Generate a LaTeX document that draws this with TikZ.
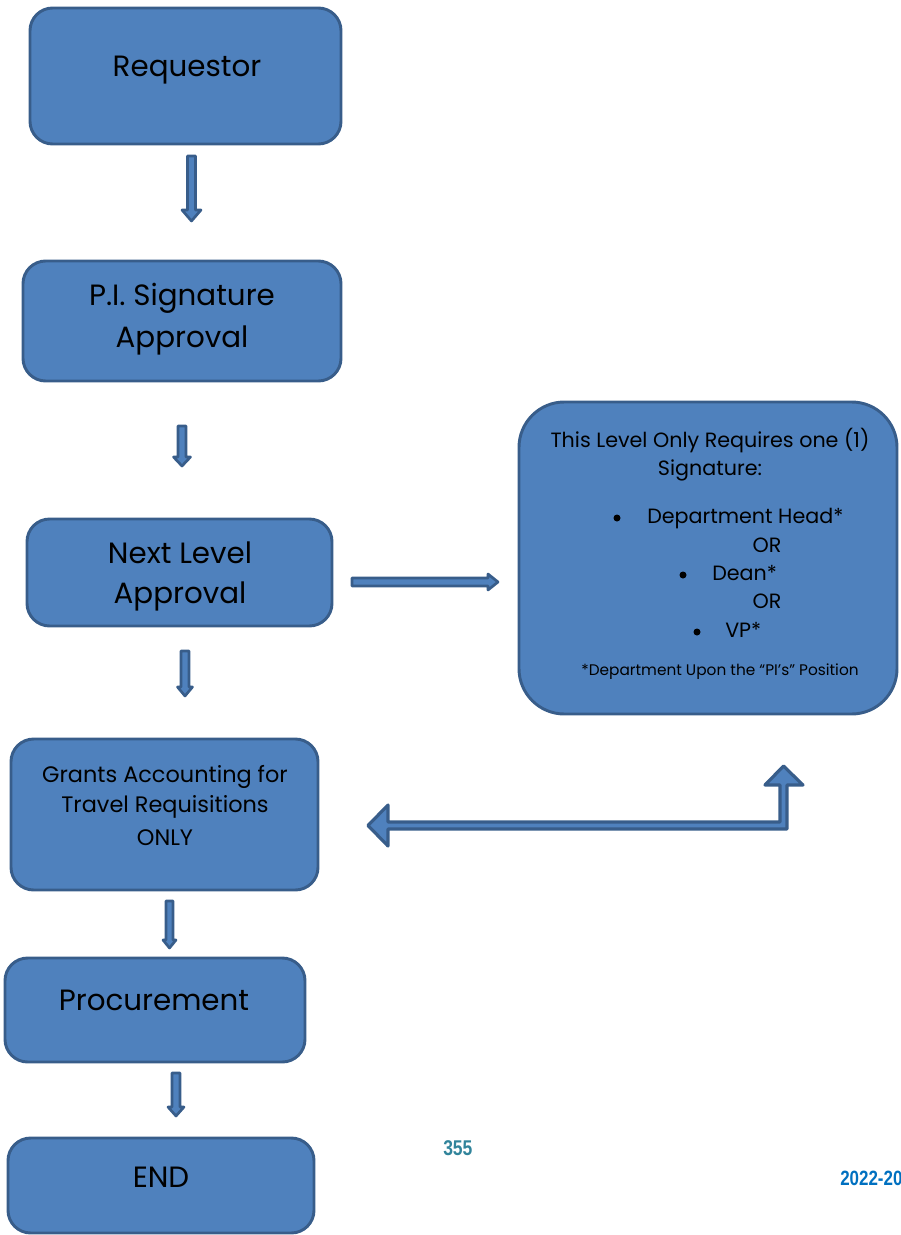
\documentclass[tikz,border=0pt]{standalone}
\usepackage{fontspec}
\setmainfont{Poppins}
\newfontfamily\arialf{Liberation Sans}
\usetikzlibrary{fit}
\definecolor{boxfill}{HTML}{4F81BD}
\definecolor{boxline}{HTML}{385D8A}
\definecolor{pgteal}{HTML}{31849B}
\definecolor{yrblue}{HTML}{0070C0}
\begin{document}
\begin{tikzpicture}[x=0.75pt,y=-0.75pt,
  box/.style={draw=boxline, fill=boxfill, line width=2.2pt, rounded corners=17pt, inner sep=0pt},
  bigbox/.style={box, rounded corners=34pt},
  blockarrow/.style={draw=boxline, fill=boxfill, line width=2pt, line join=round},
  lbl/.style={anchor=base, inner sep=0pt, font=\fontsize{22}{26}\selectfont},
  slbl/.style={anchor=base, inner sep=0pt, font=\fontsize{16.8}{21}\selectfont},
  rlbl/.style={anchor=base, inner sep=0pt, font=\fontsize{15.5}{19}\selectfont},
  rlblw/.style={rlbl, anchor=base west},
  fnlbl/.style={anchor=base, inner sep=0pt, font=\fontsize{11.5}{14}\selectfont},
  bul/.style={fill=black, draw=none},
]
\useasboundingbox (0,0) rectangle (900,1235);

% boxes
\node[box, fit={(30,8) (341,144)}] (req) {};
\node[box, fit={(23,261) (341,381)}] (pi) {};
\node[box, fit={(27,519) (332,626)}] (next) {};
\node[box, fit={(11,739) (318,890)}] (grants) {};
\node[box, fit={(5,958) (305,1062)}] (proc) {};
\node[box, fit={(8,1138) (314,1233)}] (end) {};
\node[bigbox, fit={(519,402) (897,714)}] (sig) {};

% labels
\node[lbl] (treq) at (187,76) {Requestor};
\node[lbl] (tpi1) at (182,305) {P.I. Signature};
\node[lbl] (tpi2) at (182,347) {Approval};
\node[lbl] (tnx1) at (180,563) {Next Level};
\node[lbl] (tnx2) at (180,603) {Approval};
\node[slbl] (tga1) at (165,782) {Grants Accounting for};
\node[slbl] (tga2) at (165,812) {Travel Requisitions};
\node[slbl] (tga3) at (165,845) {ONLY};
\node[lbl] (tproc) at (154,1010) {Procurement};
\node[lbl] (tend) at (161,1187) {END};

\node[rlbl] (ts1) at (710,447) {This Level Only Requires one (1)};
\node[rlbl] (ts2) at (710,475) {Signature:};
\fill[bul] (617,518) circle (3.5);
\node[rlblw] (ts3) at (647,523) {Department Head*};
\node[rlbl] (ts4) at (767,552) {OR};
\fill[bul] (683,575) circle (3.5);
\node[rlblw] (ts5) at (712,580) {Dean*};
\node[rlbl] (ts6) at (767,608) {OR};
\fill[bul] (697,632) circle (3.5);
\node[rlblw] (ts7) at (725,637) {VP*};
\node[fnlbl] (ts8) at (720,675) {*Department Upon the “PI’s” Position};

% block arrows (down)
\draw[blockarrow] (187.5,156) -- (195.5,156) -- (195.5,210) -- (201,210) -- (191.5,221) -- (182,210) -- (187.5,210) -- cycle;
\draw[blockarrow] (178,426) -- (186,426) -- (186,457) -- (190.5,457) -- (182,466) -- (173.5,457) -- (178,457) -- cycle;
\draw[blockarrow] (181,651) -- (189,651) -- (189,687) -- (192.5,687) -- (185,696) -- (177.5,687) -- (181,687) -- cycle;
\draw[blockarrow] (166,901) -- (173,901) -- (173,940) -- (176,940) -- (169.5,948) -- (163,940) -- (166,940) -- cycle;
\draw[blockarrow] (172,1073) -- (180,1073) -- (180,1107) -- (184,1107) -- (176,1116) -- (168,1107) -- (172,1107) -- cycle;
% right arrow
\draw[blockarrow] (352,578) -- (488,578) -- (488,574) -- (498,582) -- (488,590) -- (488,586) -- (352,586) -- cycle;
% double bent arrow
\draw[blockarrow, line width=2.4pt] (368,825.5) -- (388,805) -- (388,822) -- (780,822) -- (780,785) -- (765,785) -- (783.5,766) -- (803,785) -- (787,785) -- (787,829) -- (388,829) -- (388,846) -- cycle;

% page footer texts
\node[anchor=base west, inner sep=0pt, text=pgteal, font=\arialf\bfseries\fontsize{16}{19}\selectfont] (pg) at (443,1155) {\scalebox{0.82}[1]{355}};
\node[anchor=base west, inner sep=0pt, text=yrblue, font=\arialf\bfseries\fontsize{15.5}{19}\selectfont] (yr) at (840,1185) {\scalebox{0.82}[1]{2022-20}};
\end{tikzpicture}
\end{document}
